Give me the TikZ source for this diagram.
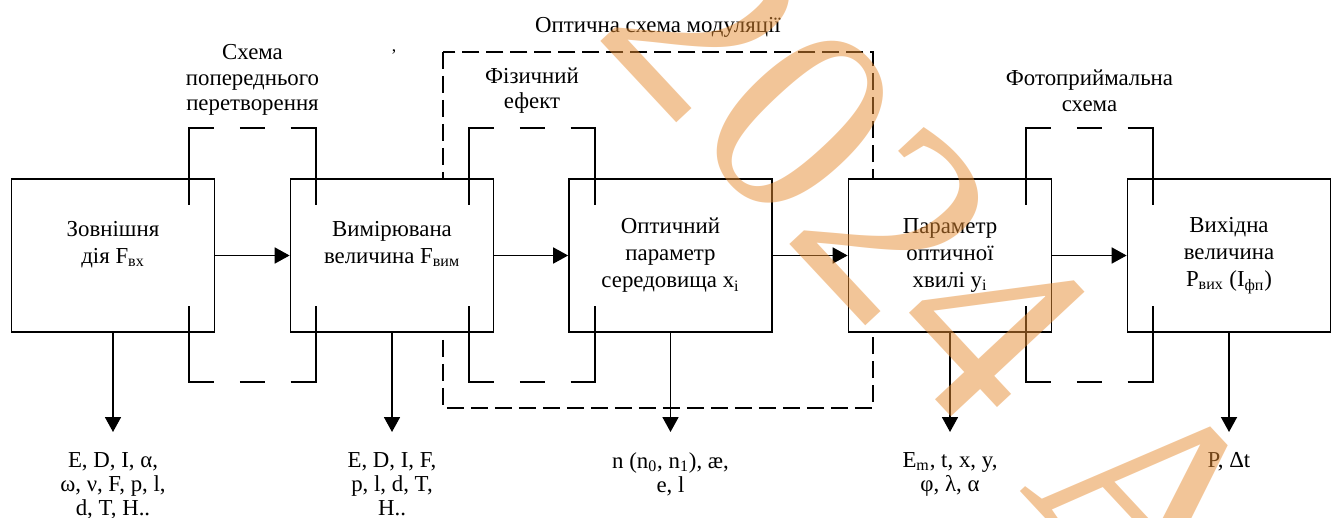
\documentclass[tikz,border=0pt]{standalone}
\usepackage{fontspec}
\setmainfont{Liberation Serif}
\usepackage{tikz}
\usetikzlibrary{arrows.meta,positioning}

\definecolor{wmorange}{RGB}{230,140,50}

\begin{document}
\begin{tikzpicture}[x=0.02cm, y=-0.02cm,
		block/.style={rectangle, draw, fill=white, line width=1pt, minimum width=4.06cm, minimum height=3.06cm, inner sep=0pt, align=center, font=\fontsize{13}{15.4}\selectfont},
		note/.style={align=center, inner sep=0pt, font=\fontsize{13}{14.5}\selectfont},
		outnote/.style={align=center, inner sep=0pt, font=\fontsize{13}{13.8}\selectfont},
		arr/.style={line width=1pt, -{Triangle[length=0.3cm, width=0.32cm]}},
		sline/.style={line width=1pt, line cap=rect},
		dline/.style={line width=1pt, dash pattern=on 0.508cm off 0.508cm},
		wmtext/.style={text=wmorange, opacity=0.5, inner sep=0pt, font=\fontsize{158}{158}\selectfont}]
			\useasboundingbox (0,0) rectangle (1334,517);
			% Optical modulation frame
			\draw[line width=1pt, dash pattern=on 0.34cm off 0.14cm] (443,52) rectangle (873,408);
			\node[note] (frame) at (658,27) {Оптична схема модуляції};
			\node (tick) at (394,52) {,};
			% Nodes
			\node[block] (b1) at (113,255.5) {Зовнішня\\дія F\textsubscript{вх}\\\mbox{}};
			\node[block] (b2) at (392,255.5) {Вимірювана\\величина F\textsubscript{вим}\\\mbox{}};
			\node[block] (b3) at (670.5,255.5) {Оптичний\\параметр\\середовища x\textsubscript{i}};
			\node[block] (b4) at (950,255.5) {Параметр\\оптичної\\хвилі y\textsubscript{i}};
			\node[block] (b5) at (1229,255.5) {Вихідна\\величина\\P\textsubscript{вих} (I\textsubscript{фп})};
			\foreach \i/\j in {1/2,2/3,3/4,4/5} {
				\draw[arr] (b\i.east) -- (b\j.west);
			}
			% Intermediate stages
			\foreach \l/\r in {189/316, 469/595, 1026/1153} {
				\draw[sline] (\l,204) -- (\l,128);
				\draw[sline] (\r,204) -- (\r,128);
				\draw[sline] (\l,307) -- (\l,382);
				\draw[sline] (\r,307) -- (\r,382);
				\draw[dline] (\l,128) -- (\r,128);
				\draw[dline] (\l,382) -- (\r,382);
			}
			\node[note, anchor=south] (s1) at (252.5,116) {Схема\\попереднього\\перетворення};
			\node[note, anchor=south] (s2) at (532,114) {Фізичний\\ефект};
			\node[note, anchor=south] (s3) at (1089.5,112) {Фотоприймальна\\схема};
			% Outputs
			\foreach \i/\x in {1/113, 2/392, 3/670.5, 4/950, 5/1229} {
				\coordinate (o\i) at (\x,432);
				\draw[arr] (b\i.south) -- (o\i);
			}
			\node[outnote, below=0.4cm of o1] (t1) {E, D, I, α,\\ω, ν, F, p, l,\\d, T, H..};
			\node[outnote, below=0.4cm of o2] (t2) {E, D, I, F,\\p, l, d, T,\\H..};
			\node[outnote, below=0.4cm of o3] (t3) {n (n\textsubscript{0}, n\textsubscript{1}), æ,\\e, l};
			\node[outnote, below=0.4cm of o4] (t4) {E\textsubscript{m}, t, x, y,\\φ, λ, α};
			\node[outnote, below=0.4cm of o5] (t5) {P, Δt};
			% Watermark
			\node[wmtext, rotate=-47] (wm) at (940,272) {2024 A};
		\end{tikzpicture}
\end{document}
